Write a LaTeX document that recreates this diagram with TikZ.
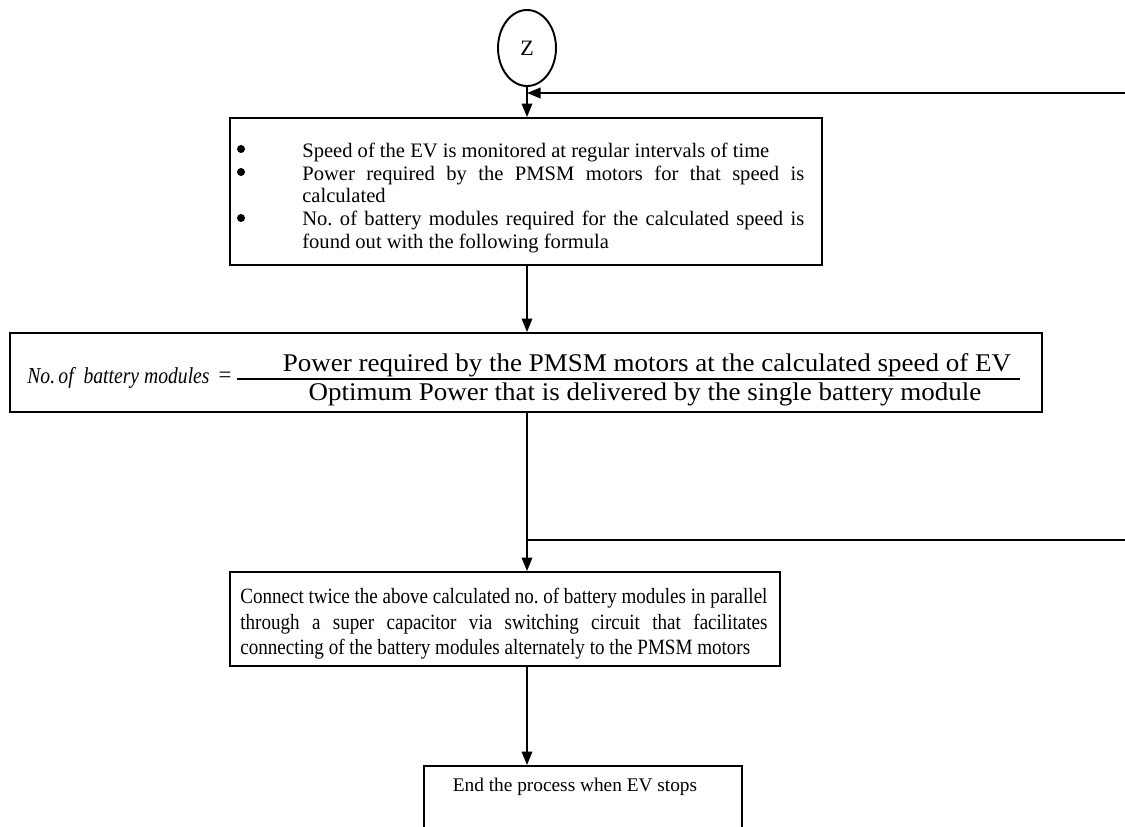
\documentclass[tikz,border=0pt]{standalone}
\usepackage{fontspec}
\setmainfont{Liberation Serif}
\usetikzlibrary{arrows.meta,shapes.geometric}
\begin{document}
\frenchspacing
\begin{tikzpicture}[x=0.02cm,y=-0.02cm,
  box/.style={draw,line width=1.1pt,inner sep=0pt},
  txt/.style={inner sep=0pt,font=\fontsize{11.7}{13}\selectfont},
  fml/.style={inner sep=0pt,font=\fontsize{14.5}{16}\selectfont},
  conn/.style={line width=1.1pt,-{Triangle[length=0.27cm,width=0.21cm]}},
  plain/.style={line width=1.1pt},
  bul/.style={fill=black}]
\useasboundingbox (0,0) rectangle (1125,827);
\clip (0,0) rectangle (1125,827);
% nodes
\node[box,ellipse,minimum width=1.16cm,minimum height=1.52cm,font=\fontsize{12.5}{14}\selectfont] (z) at (527,48) {Z};
\node[box,minimum width=11.84cm,minimum height=2.94cm] (b1) at (526,191.5) {};
\node[txt,text width=10.04cm,align=justify,anchor=north west] (t1) at (302,134) {%
\hyphenpenalty=10000\exhyphenpenalty=10000
\begin{list}{}{\setlength\leftmargin{0pt}\setlength\labelwidth{0pt}\setlength\labelsep{0pt}%
\setlength\itemsep{0pt}\setlength\parsep{0pt}\setlength\topsep{0pt}\setlength\partopsep{0pt}}
\item[] Speed of the EV is monitored at regular intervals of time
\item[] Power required by the PMSM motors for that speed is calculated
\item[] No. of battery modules required for the calculated speed is found out with the following formula
\end{list}};
\fill[bul] (241,149) circle (4);
\fill[bul] (241,172) circle (4);
\fill[bul] (241,218) circle (4);
\node[box,minimum width=20.64cm,minimum height=1.58cm] (b2) at (526,372.5) {};
\node[inner sep=0pt,anchor=west,font=\fontsize{13}{14}\selectfont] (lab) at (27,378) {\scalebox{0.86}[1]{\itshape No.\,of\ \ battery modules}};
\node[inner sep=0pt,font=\fontsize{13}{14}\selectfont] (eq) at (225,377) {=};
\node[fml,anchor=base] (num) at (647,371) {\scalebox{1.06}[1]{Power required by the PMSM motors at the calculated speed of EV}};
\node[fml,anchor=base] (den) at (645,400) {\scalebox{1.06}[1]{Optimum Power that is delivered by the single battery module}};
\coordinate (barl) at (237,379);
\coordinate (barr) at (1020,379);
\draw[line width=0.9pt] (barl) -- (barr);
\node[box,minimum width=11cm,minimum height=1.88cm] (b3) at (505,619) {};
\node[txt,anchor=north west] (t3) at (240,588) {\scalebox{0.875}[1]{\parbox{12.05cm}{\setlength\parindent{0pt}\hyphenpenalty=10000\exhyphenpenalty=10000\fontsize{12.4}{14.5}\selectfont Connect twice the above calculated no. of battery modules in parallel\linebreak through a super capacitor via switching circuit that facilitates\linebreak connecting of the battery modules alternately to the PMSM motors}}};
\node[box,minimum width=6.36cm,minimum height=1.8cm,anchor=north] (b4) at (583,765) {};
\node[txt,font=\fontsize{11}{14}\selectfont] (t4) at (575,787) {End the process when EV stops};
% connectors
\coordinate (fb) at (1125,93);
\coordinate (br) at (1125,540);
\draw[conn] (fb) -- (fb -| z.south);
\draw[conn] (z.south) -- (z.south |- b1.north);
\draw[conn] (b1.south -| z.south) -- (b2.north -| z.south);
\draw[conn] (b2.south -| z.south) -- (b3.north -| z.south);
\draw[plain] (br) -- (br -| z.south);
\draw[conn] (b3.south -| z.south) -- (b4.north -| z.south);
\end{tikzpicture}
\end{document}
